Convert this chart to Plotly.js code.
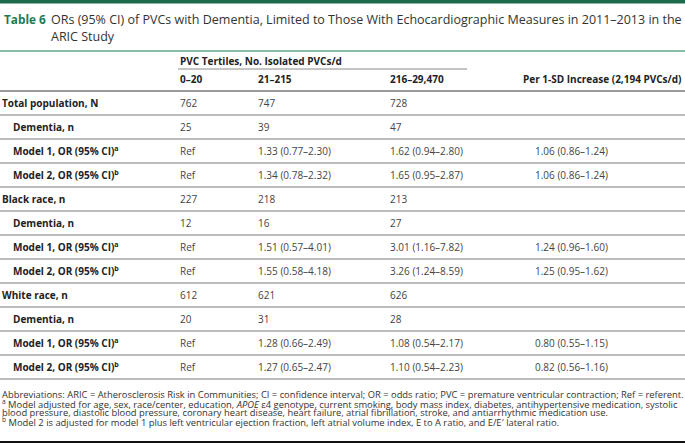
<!DOCTYPE html>
<html>
<head>
<meta charset="utf-8">
<script src="https://cdn.plot.ly/plotly-3.0.1.min.js"></script>
<style>
  html, body { margin: 0; padding: 0; background: #fff; }
  #table { width: 685px; height: 445px; }
</style>
</head>
<body>
<div id="table"></div>
<script>
// Table content
const tableNo = 'Table 6';
const titleLines = [
    'ORs (95% CI) of PVCs with Dementia, Limited to Those With Echocardiographic Measures in 2011–2013 in the',
    'ARIC Study'
];
const groupHeader = 'PVC Tertiles, No. Isolated PVCs/d';
const colHeaders = ['0–20', '21–215', '216–29,470', 'Per 1-SD Increase (2,194 PVCs/d)'];

const rowLabels = [
    'Total population, N', 'Dementia, n', 'Model 1, OR (95% CI)<sup>a</sup>', 'Model 2, OR (95% CI)<sup>b</sup>',
    'Black race, n', 'Dementia, n', 'Model 1, OR (95% CI)<sup>a</sup>', 'Model 2, OR (95% CI)<sup>b</sup>',
    'White race, n', 'Dementia, n', 'Model 1, OR (95% CI)<sup>a</sup>', 'Model 2, OR (95% CI)<sup>b</sup>'
];
const rowIndent = [0, 1, 1, 1, 0, 1, 1, 1, 0, 1, 1, 1];

const tertile1 = ['762', '25', 'Ref', 'Ref', '227', '12', 'Ref', 'Ref', '612', '20', 'Ref', 'Ref'];
const tertile2 = ['747', '39', '1.33 (0.77–2.30)', '1.34 (0.78–2.32)', '218', '16', '1.51 (0.57–4.01)', '1.55 (0.58–4.18)',
                  '621', '31', '1.28 (0.66–2.49)', '1.27 (0.65–2.47)'];
const tertile3 = ['728', '47', '1.62 (0.94–2.80)', '1.65 (0.95–2.87)', '213', '27', '3.01 (1.16–7.82)', '3.26 (1.24–8.59)',
                  '626', '28', '1.08 (0.54–2.17)', '1.10 (0.54–2.23)'];
const perSD = ['', '', '1.06 (0.86–1.24)', '1.06 (0.86–1.24)', '', '', '1.24 (0.96–1.60)', '1.25 (0.95–1.62)',
               '', '', '0.80 (0.55–1.15)', '0.82 (0.56–1.16)'];

const footnotes = [
    'Abbreviations: ARIC = Atherosclerosis Risk in Communities; CI = confidence interval; OR = odds ratio; PVC = premature ventricular contraction; Ref = referent.',
    '<sup>a</sup> Model adjusted for age, sex, race/center, education, <i>APOE</i> ε4 genotype, current smoking, body mass index, diabetes, antihypertensive medication, systolic',
    'blood pressure, diastolic blood pressure, coronary heart disease, heart failure, atrial fibrillation, stroke, and antiarrhythmic medication use.',
    '<sup>b</sup> Model 2 is adjusted for model 1 plus left ventricular ejection fraction, left atrial volume index, E to A ratio, and E/E′ lateral ratio.'
];

// Layout geometry (pixels, y grows downward)
const W = 685, H = 445;
const FONT = '"Open Sans", "Noto Sans", sans-serif';
const colX = [178, 256, 388, 533];
const rowTop = 91, rowH = 24;
const green = '#1f7a56';
const BODY = 10;

const annotations = [];
const shapes = [];

function text(x, y, str, size, color, extra) {
    annotations.push(Object.assign({
        x: x, y: y, text: str, xref: 'x', yref: 'y',
        xanchor: 'left', yanchor: 'middle', showarrow: false,
        font: { family: FONT, size: size, color: color }
    }, extra || {}));
}
function hline(x0, x1, y, color, width) {
    shapes.push({ type: 'line', xref: 'x', yref: 'y', x0: x0, x1: x1, y0: y, y1: y,
                  line: { color: color, width: width } });
}

// Top bar + title
shapes.push({ type: 'rect', xref: 'x', yref: 'y', x0: 0, x1: W, y0: 0, y1: 3.5,
              fillcolor: '#1d6a4c', line: { width: 0 } });
text(2, 19, '<b>' + tableNo + '</b>', 11.8, green);
text(49, 19, titleLines[0], 12.5, '#333');
text(49, 36, titleLines[1], 12.5, '#333');
hline(0, W, 51, '#5fa98b', 1.5);

// Column headers
text(colX[0], 61, '<b>' + groupHeader + '</b>', BODY, '#222');
hline(colX[0], 467, 69, '#8a8a8a', 1);
colHeaders.forEach((h, j) => {
    if (j < 3) text(colX[j], 79, '<b>' + h + '</b>', BODY, '#222');
    else text(683, 79, '<b>' + h + '</b>', BODY, '#222', { xanchor: 'right' });
});
hline(0, W, rowTop, '#9a9a9a', 2);

// Body rows
const columns = [tertile1, tertile2, tertile3, perSD];
rowLabels.forEach((label, i) => {
    const yc = rowTop + rowH * i + rowH / 2;
    text(rowIndent[i] ? 11 : 0, yc, '<b>' + label + '</b>', BODY, '#222');
    columns.forEach((col, j) => {
        if (col[i]) text(colX[j], yc, col[i], BODY, '#444');
    });
    hline(0, W, rowTop + rowH * (i + 1), '#a6a6a6', 1.3);
});

// Footnotes
const footY = [394, 403.5, 412.5, 421.5];
footnotes.forEach((f, k) => text(0, footY[k], f, 9.4, '#333'));
hline(0, W, 442, '#111', 2);

const layout = {
    width: W, height: H,
    margin: { l: 0, r: 0, t: 0, b: 0 },
    paper_bgcolor: '#fff', plot_bgcolor: '#fff',
    xaxis: { range: [0, W], visible: false, fixedrange: true },
    yaxis: { range: [H, 0], visible: false, fixedrange: true },
    showlegend: false,
    annotations: annotations,
    shapes: shapes
};

Plotly.newPlot('table', [], layout, { displayModeBar: false, staticPlot: true });
</script>
</body>
</html>
